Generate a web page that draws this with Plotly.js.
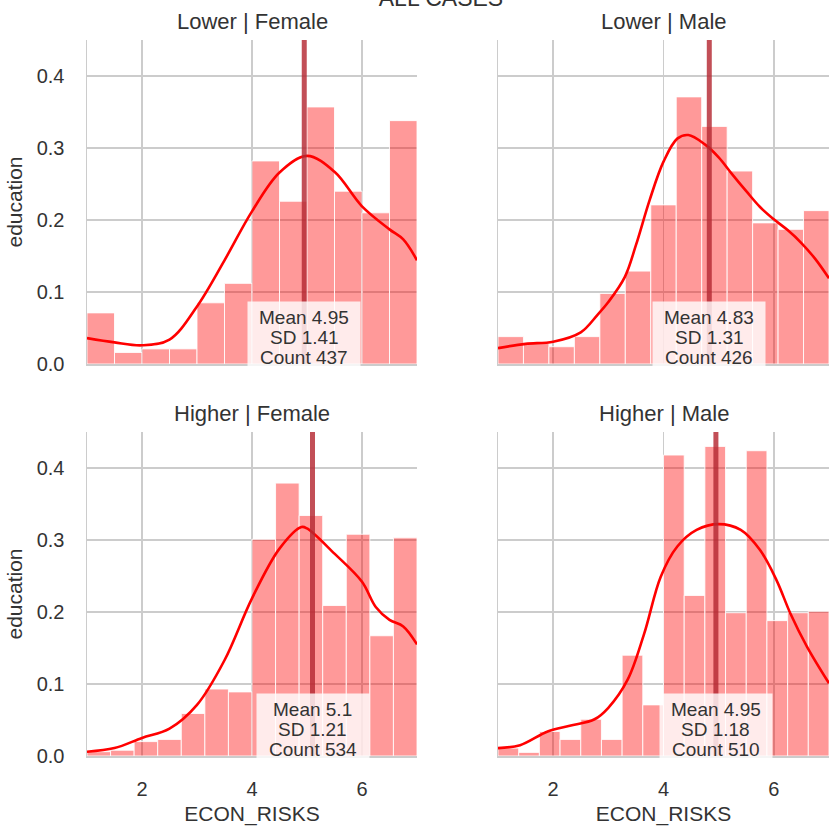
<!DOCTYPE html>
<html>
<head>
<meta charset="utf-8">
<script src="https://cdn.plot.ly/plotly-3.0.1.min.js"></script>
<style>html,body{margin:0;padding:0;background:#fff;}#chart{width:839px;height:833px;}</style>
</head>
<body>
<div id="chart"></div>
<script>
// ---------- data ----------
const panelTitles = ["Lower | Female", "Lower | Male", "Higher | Female", "Higher | Male"];
const binStart = 1;
const binEnd = 7;

const hist_LF = [0.071, 0.016, 0.021, 0.021, 0.085, 0.112, 0.282, 0.226, 0.357, 0.240, 0.210, 0.338];
const hist_LM = [0.038, 0.029, 0.024, 0.038, 0.098, 0.129, 0.221, 0.371, 0.330, 0.268, 0.196, 0.187, 0.213];
const hist_HF = [0.006, 0.008, 0.020, 0.023, 0.059, 0.093, 0.089, 0.301, 0.379, 0.334, 0.209, 0.308, 0.167, 0.303];
const hist_HM = [0.011, 0.005, 0.034, 0.023, 0.051, 0.023, 0.140, 0.071, 0.418, 0.223, 0.430, 0.199, 0.424, 0.188, 0.199, 0.201];

const kdeX_LF = [1.0, 1.5, 2.0, 2.5, 3.0, 3.5, 4.0, 4.5, 5.0, 5.5, 6.0, 6.5, 6.75, 7.0];
const kdeY_LF = [0.036, 0.030, 0.026, 0.034, 0.080, 0.144, 0.212, 0.266, 0.289, 0.267, 0.219, 0.187, 0.173, 0.144];

const kdeX_LM = [1.0, 1.5, 2.0, 2.5, 2.8, 3.0, 3.3, 3.5, 3.75, 4.0, 4.25, 4.45, 4.75, 5.0, 5.25, 5.5, 5.75, 6.0, 6.25, 6.5, 6.75, 7.0];
const kdeY_LM = [0.022, 0.028, 0.031, 0.044, 0.068, 0.086, 0.121, 0.165, 0.228, 0.281, 0.313, 0.318, 0.305, 0.287, 0.263, 0.240, 0.218, 0.201, 0.186, 0.168, 0.146, 0.119];

const kdeX_HF = [1.0, 1.5, 2.0, 2.5, 3.0, 3.5, 4.0, 4.5, 4.9, 5.0, 5.5, 6.0, 6.25, 6.5, 6.75, 7.0];
const kdeY_HF = [0.006, 0.011, 0.025, 0.038, 0.071, 0.133, 0.219, 0.288, 0.318, 0.316, 0.281, 0.242, 0.207, 0.189, 0.180, 0.155];

const kdeX_HM = [1.0, 1.4, 1.9, 2.3, 2.75, 3.0, 3.35, 3.65, 3.95, 4.25, 4.6, 5.0, 5.4, 5.75, 6.05, 6.3, 6.6, 7.0];
const kdeY_HM = [0.011, 0.015, 0.034, 0.042, 0.051, 0.067, 0.106, 0.170, 0.249, 0.291, 0.314, 0.322, 0.314, 0.286, 0.244, 0.198, 0.152, 0.101];

const means = [4.95, 4.83, 5.1, 4.95];
const sds = [1.41, 1.31, 1.21, 1.18];
const counts = [437, 426, 534, 510];

const xTicks = [2, 4, 6];
const yTicks = [0, 0.1, 0.2, 0.3, 0.4];

// ---------- build ----------
const hists = [hist_LF, hist_LM, hist_HF, hist_HM];
const kdeXs = [kdeX_LF, kdeX_LM, kdeX_HF, kdeX_HM];
const kdeYs = [kdeY_LF, kdeY_LM, kdeY_HF, kdeY_HM];
const axSuffix = ["", "2", "3", "4"];

const FONT = "Liberation Sans, Arial, sans-serif";
const TXT = "#333333";
const GRID = "#cccccc";

const traces = [];
const shapes = [];
const annotations = [];

hists.forEach((h, i) => {
  const n = h.length;
  const w = (binEnd - binStart) / n;
  const centers = h.map((_, k) => binStart + w * (k + 0.5));
  const xa = "x" + axSuffix[i], ya = "y" + axSuffix[i];
  traces.push({
    type: "bar", x: centers, y: h, width: w, xaxis: xa, yaxis: ya,
    marker: {color: "rgba(255,0,0,0.4)", line: {color: "rgba(255,255,255,0.85)", width: 1}},
    hoverinfo: "skip", showlegend: false
  });
  traces.push({
    type: "scatter", mode: "lines", x: kdeXs[i], y: kdeYs[i], xaxis: xa, yaxis: ya,
    line: {color: "#ff0000", width: 2.6, shape: "spline", smoothing: 1},
    hoverinfo: "skip", showlegend: false, cliponaxis: true
  });
  shapes.push({
    type: "line", xref: xa, yref: ya + " domain", x0: means[i], x1: means[i], y0: 0, y1: 1,
    line: {color: "rgba(180,40,50,0.82)", width: 5}, layer: "above"
  });
  // stats box
  annotations.push({
    xref: xa, yref: ya, x: means[i], y: 0, xanchor: "center", yanchor: "middle",
    yshift: 30, text: " ", width: 110, height: 62, borderpad: 1,
    bgcolor: "rgba(255,255,255,0.8)", showarrow: false
  });
  const lines = ["Mean " + means[i], "SD " + sds[i], "Count " + counts[i]];
  const shifts = [47, 27, 7];
  lines.forEach((t, j) => {
    annotations.push({
      xref: xa, yref: ya, x: means[i], y: 0, xanchor: "center", yanchor: "middle",
      yshift: shifts[j], text: t, showarrow: false,
      font: {family: FONT, size: 19, color: TXT}
    });
  });
  // panel title
  annotations.push({
    xref: xa + " domain", yref: ya + " domain", x: 0.5, y: 1, xanchor: "center", yanchor: "bottom",
    yshift: 4, text: panelTitles[i], showarrow: false,
    font: {family: FONT, size: 22, color: TXT}
  });
});

function xaxis(domain, anchor, showLabels) {
  return {
    domain: domain, anchor: anchor, range: [binStart, binEnd], tickvals: xTicks,
    showticklabels: showLabels, ticks: "", showgrid: true, gridcolor: GRID, gridwidth: 1.5,
    zeroline: false, showline: true, linecolor: GRID, linewidth: 1.5,
    tickfont: {family: FONT, size: 20, color: TXT}, ticklabelstandoff: 14,
    title: showLabels ? {text: "ECON_RISKS", font: {family: FONT, size: 21, color: TXT}, standoff: 8} : {text: ""}
  };
}
function yaxis(domain, anchor, showLabels) {
  return {
    domain: domain, anchor: anchor, range: [0, 0.45], tickvals: yTicks, tickformat: ".1f",
    showticklabels: showLabels, ticks: "", showgrid: true, gridcolor: GRID, gridwidth: 1.5,
    zeroline: false, showline: true, linecolor: GRID, linewidth: 1.5,
    tickfont: {family: FONT, size: 20, color: TXT}, ticklabelstandoff: 17,
    title: showLabels ? {text: "education", font: {family: FONT, size: 21, color: TXT}, standoff: 8} : {text: ""}
  };
}

const W = 839, H = 833;
const margin = {l: 87, r: 10, t: 40, b: 77};
const pw = W - margin.l - margin.r, ph = H - margin.t - margin.b;
const leftDom = [0, 330 / pw];
const rightDom = [(498 - margin.l) / pw, 1];
const topDom = [(H - margin.b - 364) / ph, 1];
const botDom = [0, 324 / ph];

const layout = {
  width: W, height: H, margin: margin,
  paper_bgcolor: "#ffffff", plot_bgcolor: "#ffffff",
  font: {family: FONT, color: TXT},
  showlegend: false, bargap: 0,
  title: {text: "ALL CASES", font: {family: FONT, size: 23, color: TXT},
          x: 441 / W, xanchor: "center", xref: "container", yref: "container", y: 0.993, yanchor: "bottom"},
  xaxis: xaxis(leftDom, "y", false),
  yaxis: yaxis(topDom, "x", true),
  xaxis2: xaxis(rightDom, "y2", false),
  yaxis2: yaxis(topDom, "x2", false),
  xaxis3: xaxis(leftDom, "y3", true),
  yaxis3: yaxis(botDom, "x3", true),
  xaxis4: xaxis(rightDom, "y4", true),
  yaxis4: yaxis(botDom, "x4", false),
  shapes: shapes,
  annotations: annotations
};

Plotly.newPlot("chart", traces, layout, {staticPlot: true, displayModeBar: false});
</script>
</body>
</html>
